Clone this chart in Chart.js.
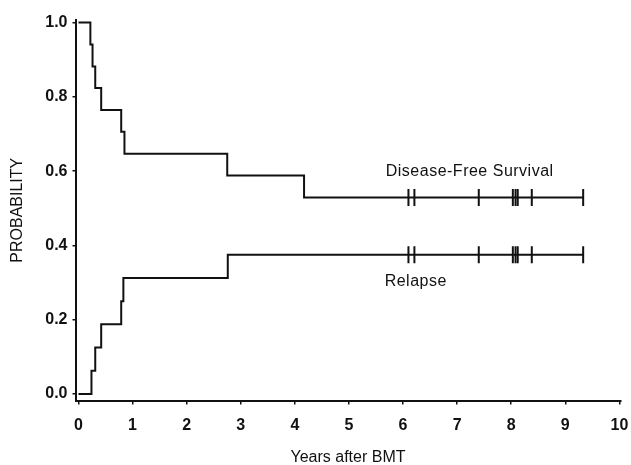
<!DOCTYPE html>
<html>
<head>
    <title>Disease-free survival and relapse after BMT</title>
    <script src="https://cdn.jsdelivr.net/npm/chart.js@4"></script>
    <style>
        body {
            margin: 0;
            background: #fff;
        }

        .chart {
            width: 631px;
            height: 465px;
        }
    </style>
</head>
<body>
<div class="chart">
    <canvas id="km-chart" width="631" height="465"></canvas>
</div>

<script>
    // values
    const dfsYears = [0, 0.22, 0.26, 0.31, 0.42, 0.79, 0.85, 2.75, 4.17, 9.33];
    const dfsProb = [1, 0.941, 0.882, 0.824, 0.765, 0.706, 0.647, 0.588, 0.529, 0.529];

    const relapseYears = [0, 0.24, 0.31, 0.42, 0.79, 0.83, 2.76, 9.33];
    const relapseProb = [0, 0.0625, 0.125, 0.1875, 0.25, 0.3125, 0.375, 0.375];

    // censored patients (tick marks)
    const censorYears = [6.10, 6.21, 7.40, 8.03, 8.08, 8.12, 8.38, 9.33];

    const xTicks = [0, 1, 2, 3, 4, 5, 6, 7, 8, 9, 10];
    const yTicks = [0, 0.2, 0.4, 0.6, 0.8, 1.0];

    const curveLabels = [
        {text: 'Disease-Free Survival', x: 5.68, y: 0.6},
        {text: 'Relapse', x: 5.66, y: 0.302}
    ];

    const ink = '#111';
    const family = "'Liberation Sans', Arial, sans-serif";

    function stepAt(times, vals, t) {
        let v = vals[0];
        for (let i = 0; i < times.length; i++) {
            if (times[i] <= t) v = vals[i];
        }
        return v;
    }

    function toPoints(xs, ys) {
        return xs.map((x, i) => ({x: x, y: ys[i]}));
    }

    const labelPlugin = {
        id: 'curveLabels',
        afterDatasetsDraw(chart) {
            const c = chart.ctx;
            const xs = chart.scales.x;
            const ys = chart.scales.y;
            c.save();
            c.fillStyle = ink;
            c.font = '16px ' + family;
            c.letterSpacing = '0.5px';
            c.textAlign = 'left';
            c.textBaseline = 'middle';
            curveLabels.forEach(l => {
                c.fillText(l.text, xs.getPixelForValue(l.x), ys.getPixelForValue(l.y));
            });
            c.restore();
        }
    };

    const censorStyle = {
        type: 'scatter',
        showLine: false,
        pointStyle: 'line',
        rotation: 90,
        pointRadius: 8.5,
        borderWidth: 2,
        borderColor: ink
    };

    const ctx = document.getElementById('km-chart').getContext('2d');
    const chart = new Chart(ctx, {
        type: 'line',
        data: {
            datasets: [{
                label: 'Disease-Free Survival',
                data: toPoints(dfsYears, dfsProb),
                stepped: true,
                borderColor: ink,
                borderWidth: 2,
                pointRadius: 0,
                fill: false
            }, {
                label: 'Relapse',
                data: toPoints(relapseYears, relapseProb),
                stepped: true,
                borderColor: ink,
                borderWidth: 2,
                pointRadius: 0,
                fill: false
            }, Object.assign({
                label: 'DFS censored',
                data: censorYears.map(t => ({x: t, y: stepAt(dfsYears, dfsProb, t)}))
            }, censorStyle), Object.assign({
                label: 'Relapse censored',
                data: censorYears.map(t => ({x: t, y: stepAt(relapseYears, relapseProb, t)}))
            }, censorStyle)]
        },
        options: {
            responsive: false,
            animation: false,
            layout: {
                padding: {left: 0, top: 20, right: 8, bottom: 0}
            },
            plugins: {
                legend: {display: false},
                tooltip: {enabled: false}
            },
            scales: {
                x: {
                    type: 'linear',
                    min: -0.055,
                    max: 10.02,
                    afterBuildTicks: s => { s.ticks = xTicks.map(v => ({value: v})); },
                    afterFit: s => {
                        s.height = 64.5;
                        // keep the plot edge where the original has it
                        s.paddingLeft = 0;
                        s.paddingRight = 0;
                    },
                    border: {display: true, color: ink, width: 2},
                    grid: {drawOnChartArea: false, drawTicks: true, tickLength: 4, color: ink, lineWidth: 1.5},
                    ticks: {
                        color: ink,
                        padding: 11,
                        maxRotation: 0,
                        font: {family: family, size: 16, weight: 'bold'},
                        callback: v => String(v)
                    },
                    title: {
                        display: true,
                        text: 'Years after BMT',
                        color: ink,
                        padding: {top: 0, bottom: -2},
                        font: {family: family, size: 16}
                    }
                },
                y: {
                    min: -0.0175,
                    max: 1.007,
                    afterBuildTicks: s => { s.ticks = yTicks.map(v => ({value: v})); },
                    afterFit: s => { s.width = 75.5; },
                    border: {display: true, color: ink, width: 2},
                    grid: {drawOnChartArea: false, drawTicks: true, tickLength: 3, color: ink, lineWidth: 1.5},
                    ticks: {
                        color: ink,
                        padding: 5,
                        font: {family: family, size: 16, weight: 'bold'},
                        callback: v => v.toFixed(1)
                    },
                    title: {
                        display: true,
                        text: 'PROBABILITY',
                        color: ink,
                        padding: {top: 8, bottom: 0},
                        font: {family: family, size: 16}
                    }
                }
            }
        },
        plugins: [labelPlugin]
    });
</script>
</body>
</html>
